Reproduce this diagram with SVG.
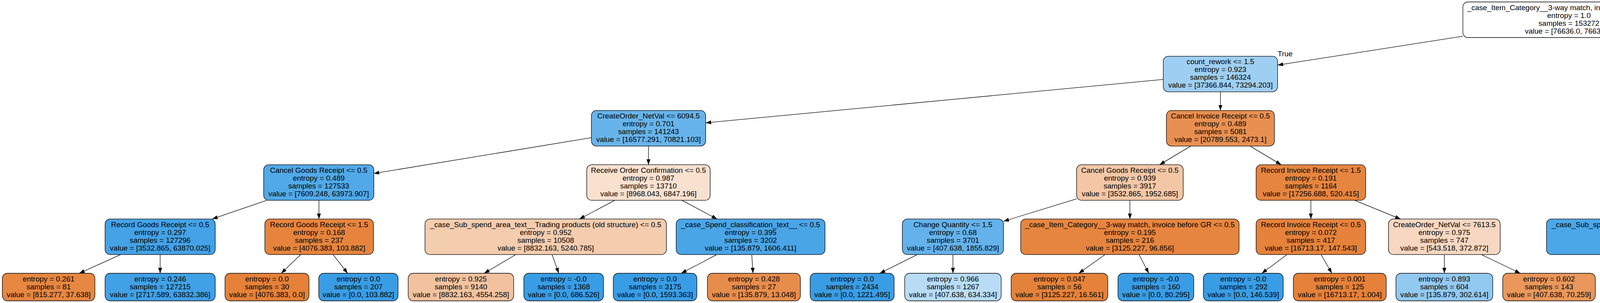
<svg xmlns="http://www.w3.org/2000/svg" width="6873" height="775" viewBox="0 0 6873 775">
<style>
.node rect{stroke:#000;stroke-width:1.3;}
text{font-family:"Liberation Sans",Arial,Helvetica,sans-serif;font-size:19px;text-anchor:middle;fill:#000;}
#edges path{stroke:#000;stroke-width:1.3;fill:none;marker-end:url(#arr);}
</style>
<defs>
<marker id="arr" markerUnits="userSpaceOnUse" markerWidth="14" markerHeight="10" refX="14" refY="5" orient="auto"><path d="M0,0 L14,5 L0,10 z" fill="#000"/></marker>
</defs>
<rect width="6873" height="775" fill="#fff"/>
<g id="edges">
<path d="M3745 92.7 L3270.6 166.5"/>
<path d="M4288 92.7 L4767.8 167.4"/>
<path d="M2978 203.2 L1806.5 314.2"/>
<path d="M3124.3 234.8 L3124.3 282.6"/>
<path d="M1514 352.1 L957 443.7"/>
<path d="M1660.1 373.6 L1660.1 421.4"/>
<path d="M3048.3 373.6 L2968.5 421.4"/>
<path d="M3200.2 373.6 L3279.9 421.4"/>
<path d="M4908.6 234.8 L4908.6 282.6"/>
<path d="M5049.4 213.6 L5574.3 304.1"/>
<path d="M4846.9 373.6 L4782.1 421.4"/>
<path d="M4970.2 373.6 L5035 421.4"/>
<path d="M5713.7 373.6 L5713.7 421.4"/>
<path d="M5851.7 373.6 L5997.3 421.6"/>
<path d="M682.9 512.4 L543.1 560.2"/>
<path d="M816.5 512.4 L816.5 560.2"/>
<path d="M1573.8 512.4 L1483.2 560.2"/>
<path d="M1745.7 512.4 L1835.8 560.2"/>
<path d="M2756 508.7 L2569 566"/>
<path d="M2892.5 512.4 L2892.5 560.2"/>
<path d="M3355.8 512.4 L3355.8 560.2"/>
<path d="M3467.8 512.4 L3585.5 560.2"/>
<path d="M4578 507.9 L4396.5 560.2"/>
<path d="M4729.6 512.4 L4739.2 560.2"/>
<path d="M5087.3 512.4 L5075.4 570.45"/>
<path d="M5169.9 512.4 L5246.8 560.2"/>
<path d="M5674.4 512.4 L5624.2 570.45"/>
<path d="M5765.6 512.4 L5820.1 560.2"/>
<path d="M6135 512.4 L6135 570.45"/>
<path d="M6272.3 511.6 L6422 560.2"/>
<path d="M308.9 651.2 L202.8 699"/>
<path d="M410 651.2 L410 699"/>
<path d="M769.7 651.2 L720.1 699"/>
<path d="M852.6 651.2 L889.9 699"/>
<path d="M1320.2 651.2 L1239.5 699"/>
<path d="M1413.3 651.2 L1430.4 699"/>
<path d="M1835 651.2 L1744 699"/>
<path d="M1924.5 651.2 L1927.7 699"/>
<path d="M2348.2 651.2 L2252.2 699"/>
<path d="M2439.5 651.2 L2439.5 699"/>
<path d="M2828.7 651.2 L2761.7 699"/>
<path d="M2916 651.2 L2940.8 699"/>
<path d="M3294.6 651.2 L3230.2 699"/>
<path d="M3382 651.2 L3409.5 699"/>
<path d="M3697.5 651.2 L3697.5 699"/>
<path d="M3792.4 651.2 L3892 699"/>
<path d="M4238.8 651.2 L4238.8 699"/>
<path d="M4331.7 651.2 L4429.5 699"/>
<path d="M4745.6 651.2 L4742.7 699"/>
<path d="M4832.8 651.2 L4921.6 699"/>
<path d="M5308.9 651.2 L5297.1 699"/>
<path d="M5391.9 651.2 L5467.3 699"/>
<path d="M5852 651.2 L5831 699"/>
<path d="M5942.8 651.2 L6017.2 699"/>
<path d="M6522.6 651.2 L6481.3 699"/>
<path d="M6612 651.2 L6664.6 699"/>
<text x="3290" y="144">True</text>
<text x="4746.5" y="145">False</text>
</g>

<g id="n0" class="node"><rect x="3745" y="5" width="543" height="91" rx="13" fill="#ffffff"/>
<text x="4016.5" y="25.6">_case_Item_Category__3-way match, invoice after GR &lt;= 0.5</text><text x="4016.5" y="45.6">entropy = 1.0</text><text x="4016.5" y="65.6">samples = 153272</text><text x="4016.5" y="85.6">value = [76636.0, 76636.0]</text></g>

<g id="n1" class="node"><rect x="2978" y="143.8" width="292.6" height="91" rx="13" fill="#9ecff2"/>
<text x="3124.3" y="164.4">count_rework &lt;= 1.5</text><text x="3124.3" y="184.4">entropy = 0.923</text><text x="3124.3" y="204.4">samples = 146324</text><text x="3124.3" y="224.4">value = [37366.844, 73294.203]</text></g>

<g id="n30" class="node"><rect x="4767.8" y="143.8" width="281.6" height="91" rx="13" fill="#e78c4a"/>
<text x="4908.6" y="164.4">Record Invoice Receipt &lt;= 1.5</text><text x="4908.6" y="184.4">entropy = 0.397</text><text x="4908.6" y="204.4">samples = 6948</text><text x="4908.6" y="224.4">value = [39269.156, 3341.797]</text></g>

<g id="n2" class="node"><rect x="1514" y="282.6" width="292.5" height="91" rx="13" fill="#67b4eb"/>
<text x="1660.25" y="303.2">CreateOrder_NetVal &lt;= 6094.5</text><text x="1660.25" y="323.2">entropy = 0.701</text><text x="1660.25" y="343.2">samples = 141243</text><text x="1660.25" y="363.2">value = [16577.291, 70821.103]</text></g>

<g id="n3" class="node"><rect x="2986" y="282.6" width="276.5" height="91" rx="13" fill="#e89051"/>
<text x="3124.25" y="303.2">Cancel Invoice Receipt &lt;= 0.5</text><text x="3124.25" y="323.2">entropy = 0.489</text><text x="3124.25" y="343.2">samples = 5081</text><text x="3124.25" y="363.2">value = [20789.553, 2473.1]</text></g>

<g id="n4" class="node"><rect x="4675" y="282.6" width="467" height="91" rx="13" fill="#f2c19e"/>
<text x="4908.5" y="303.2">_case_Sub_spend_area_text__Road Packed &lt;= 0.5</text><text x="4908.5" y="323.2">entropy = 0.923</text><text x="4908.5" y="343.2">samples = 6134</text><text x="4908.5" y="363.2">value = [5978.695, 3056.246]</text></g>

<g id="n5" class="node"><rect x="5574.3" y="282.6" width="278.6" height="91" rx="13" fill="#e5823b"/>
<text x="5713.6" y="303.2">Record Goods Receipt &lt;= 1.5</text><text x="5713.6" y="323.2">entropy = 0.071</text><text x="5713.6" y="343.2">samples = 814</text><text x="5713.6" y="363.2">value = [33290.461, 285.551]</text></g>

<g id="n6" class="node"><rect x="675" y="421.4" width="282" height="91" rx="13" fill="#51a9e8"/>
<text x="816" y="442">Cancel Goods Receipt &lt;= 0.5</text><text x="816" y="462">entropy = 0.489</text><text x="816" y="482">samples = 127533</text><text x="816" y="502">value = [7609.248, 63973.907]</text></g>

<g id="n7" class="node"><rect x="1502" y="421.4" width="316" height="91" rx="13" fill="#f9e1d0"/>
<text x="1660" y="442">Receive Order Confirmation &lt;= 0.5</text><text x="1660" y="462">entropy = 0.987</text><text x="1660" y="482">samples = 13710</text><text x="1660" y="502">value = [8968.043, 6847.196]</text></g>

<g id="n8" class="node"><rect x="2756" y="421.4" width="273" height="91" rx="13" fill="#f3c7a6"/>
<text x="2892.5" y="442">Cancel Goods Receipt &lt;= 0.5</text><text x="2892.5" y="462">entropy = 0.939</text><text x="2892.5" y="482">samples = 3917</text><text x="2892.5" y="502">value = [3532.865, 1952.685]</text></g>

<g id="n9" class="node"><rect x="3215.6" y="421.4" width="280.4" height="91" rx="13" fill="#e6853f"/>
<text x="3355.8" y="442">Record Invoice Receipt &lt;= 1.5</text><text x="3355.8" y="462">entropy = 0.191</text><text x="3355.8" y="482">samples = 1164</text><text x="3355.8" y="502">value = [17256.688, 520.415]</text></g>

<g id="n10" class="node"><rect x="4578" y="421.4" width="285" height="91" rx="13" fill="#e1f0fb"/>
<text x="4720.5" y="442">CreateOrder_NetVal &lt;= 9944.5</text><text x="4720.5" y="462">entropy = 0.995</text><text x="4720.5" y="482">samples = 6090</text><text x="4720.5" y="502">value = [2581.709, 3046.711]</text></g>

<g id="n11" class="node"><rect x="4888.8" y="421.4" width="415.8" height="91" rx="13" fill="#e5813a"/>
<text x="5096.7" y="442">_case_Document_Type__Standard PO &lt;= 0.5</text><text x="5096.7" y="462">entropy = 0.028</text><text x="5096.7" y="482">samples = 44</text><text x="5096.7" y="502">value = [3396.986, 9.535]</text></g>

<g id="n12" class="node"><rect x="5575" y="421.4" width="277.5" height="91" rx="13" fill="#e5813a"/>
<text x="5713.75" y="442">Cancel Invoice Receipt &lt;= 0.5</text><text x="5713.75" y="462">entropy = 0.034</text><text x="5713.75" y="482">samples = 422</text><text x="5713.75" y="502">value = [28942.319, 104.886]</text></g>

<g id="n13" class="node"><rect x="5997.3" y="421.4" width="275" height="91" rx="13" fill="#e68641"/>
<text x="6134.8" y="442">CreateOrder_NetVal &lt;= 136.5</text><text x="6134.8" y="462">entropy = 0.242</text><text x="6134.8" y="482">samples = 392</text><text x="6134.8" y="502">value = [4348.142, 180.665]</text></g>

<g id="n14" class="node"><rect x="269" y="560.2" width="282" height="91" rx="13" fill="#44a2e6"/>
<text x="410" y="580.8">Record Goods Receipt &lt;= 0.5</text><text x="410" y="600.8">entropy = 0.297</text><text x="410" y="620.8">samples = 127296</text><text x="410" y="640.8">value = [3532.865, 63870.025]</text></g>

<g id="n15" class="node"><rect x="678" y="560.2" width="278" height="91" rx="13" fill="#e6843e"/>
<text x="817" y="580.8">Record Goods Receipt &lt;= 1.5</text><text x="817" y="600.8">entropy = 0.168</text><text x="817" y="620.8">samples = 237</text><text x="817" y="640.8">value = [4076.383, 103.882]</text></g>

<g id="n16" class="node"><rect x="1088" y="560.2" width="618" height="91" rx="13" fill="#f4ccae"/>
<text x="1397" y="580.8">_case_Sub_spend_area_text__Trading products (old structure) &lt;= 0.5</text><text x="1397" y="600.8">entropy = 0.952</text><text x="1397" y="620.8">samples = 10508</text><text x="1397" y="640.8">value = [8832.163, 5240.785]</text></g>

<g id="n17" class="node"><rect x="1731" y="560.2" width="381" height="91" rx="13" fill="#4aa5e7"/>
<text x="1921.5" y="580.8">_case_Spend_classification_text__ &lt;= 0.5</text><text x="1921.5" y="600.8">entropy = 0.395</text><text x="1921.5" y="620.8">samples = 3202</text><text x="1921.5" y="640.8">value = [135.879, 1606.411]</text></g>

<g id="n18" class="node"><rect x="2310" y="560.2" width="259" height="91" rx="13" fill="#64b2eb"/>
<text x="2439.5" y="580.8">Change Quantity &lt;= 1.5</text><text x="2439.5" y="600.8">entropy = 0.68</text><text x="2439.5" y="620.8">samples = 3701</text><text x="2439.5" y="640.8">value = [407.638, 1855.829]</text></g>

<g id="n19" class="node"><rect x="2613" y="560.2" width="559" height="91" rx="13" fill="#e6853f"/>
<text x="2892.5" y="580.8">_case_Item_Category__3-way match, invoice before GR &lt;= 0.5</text><text x="2892.5" y="600.8">entropy = 0.195</text><text x="2892.5" y="620.8">samples = 216</text><text x="2892.5" y="640.8">value = [3125.227, 96.856]</text></g>

<g id="n20" class="node"><rect x="3215.6" y="560.2" width="280.4" height="91" rx="13" fill="#e5823b"/>
<text x="3355.8" y="580.8">Record Invoice Receipt &lt;= 0.5</text><text x="3355.8" y="600.8">entropy = 0.072</text><text x="3355.8" y="620.8">samples = 417</text><text x="3355.8" y="640.8">value = [16713.17, 147.543]</text></g>

<g id="n21" class="node"><rect x="3554.5" y="560.2" width="286" height="91" rx="13" fill="#f7d7c1"/>
<text x="3697.5" y="580.8">CreateOrder_NetVal &lt;= 7613.5</text><text x="3697.5" y="600.8">entropy = 0.975</text><text x="3697.5" y="620.8">samples = 747</text><text x="3697.5" y="640.8">value = [543.518, 372.872]</text></g>

<g id="n22" class="node"><rect x="3959" y="560.2" width="559" height="91" rx="13" fill="#4ca7e8"/>
<text x="4238.5" y="580.8">_case_Sub_spend_area_text__Other Logistics Services &lt;= 0.5</text><text x="4238.5" y="600.8">entropy = 0.433</text><text x="4238.5" y="620.8">samples = 5547</text><text x="4238.5" y="640.8">value = [271.759, 2782.74]</text></g>

<g id="n23" class="node"><rect x="4544" y="560.2" width="408.6" height="91" rx="13" fill="#e88f50"/>
<text x="4748.3" y="580.8">_case_Spend_classification_text__PR &lt;= 0.5</text><text x="4748.3" y="600.8">entropy = 0.477</text><text x="4748.3" y="620.8">samples = 543</text><text x="4748.3" y="640.8">value = [2309.95, 263.971]</text></g>

<g id="n24" class="node"><rect x="4977.5" y="570.45" width="181.2" height="70.5" rx="13" fill="#399de5"/>
<text x="5068.1" y="591">entropy = 0.0</text><text x="5068.1" y="611">samples = 12</text><text x="5068.1" y="631">value = [0.0, 6.022]</text></g>

<g id="n25" class="node"><rect x="5185" y="560.2" width="270" height="91" rx="13" fill="#e58139"/>
<text x="5320" y="580.8">number_of_handovers &lt;= 3.5</text><text x="5320" y="600.8">entropy = 0.012</text><text x="5320" y="620.8">samples = 32</text><text x="5320" y="640.8">value = [3396.986, 3.513]</text></g>

<g id="n26" class="node"><rect x="5480.7" y="570.45" width="226" height="70.5" rx="13" fill="#e58139"/>
<text x="5593.7" y="591">entropy = 0.0</text><text x="5593.7" y="611">samples = 186</text><text x="5593.7" y="631">value = [25273.574, 0.0]</text></g>

<g id="n27" class="node"><rect x="5731.8" y="560.2" width="280.4" height="91" rx="13" fill="#e6853f"/>
<text x="5872" y="580.8">Record Invoice Receipt &lt;= 2.5</text><text x="5872" y="600.8">entropy = 0.183</text><text x="5872" y="620.8">samples = 236</text><text x="5872" y="640.8">value = [3668.745, 104.886]</text></g>

<g id="n28" class="node"><rect x="6038" y="570.45" width="194" height="70.5" rx="13" fill="#399de5"/>
<text x="6135" y="591">entropy = 0.0</text><text x="6135" y="611">samples = 24</text><text x="6135" y="631">value = [0.0, 12.044]</text></g>

<g id="n29" class="node"><rect x="6257" y="560.2" width="610" height="91" rx="13" fill="#e68641"/>
<text x="6562" y="580.8">_case_Sub_spend_area_text__Plastic Containers_ Lids &lt; 30L &lt;= 0.5</text><text x="6562" y="600.8">entropy = 0.23</text><text x="6562" y="620.8">samples = 368</text><text x="6562" y="640.8">value = [4348.142, 168.62]</text></g>

<g id="l1" class="node"><rect x="6" y="699" width="237" height="70.5" rx="13" fill="#e68742"/>
<text x="124.5" y="719.6">entropy = 0.261</text><text x="124.5" y="739.6">samples = 81</text><text x="124.5" y="759.6">value = [815.277, 37.638]</text></g>
<g id="l2" class="node"><rect x="269" y="699" width="282" height="70.5" rx="13" fill="#41a1e6"/>
<text x="410" y="719.6">entropy = 0.246</text><text x="410" y="739.6">samples = 127215</text><text x="410" y="759.6">value = [2717.589, 63832.386]</text></g>
<g id="l3" class="node"><rect x="576" y="699" width="215" height="70.5" rx="13" fill="#e58139"/>
<text x="683.5" y="719.6">entropy = 0.0</text><text x="683.5" y="739.6">samples = 30</text><text x="683.5" y="759.6">value = [4076.383, 0.0]</text></g>
<g id="l4" class="node"><rect x="816" y="699" width="203" height="70.5" rx="13" fill="#399de5"/>
<text x="917.5" y="719.6">entropy = 0.0</text><text x="917.5" y="739.6">samples = 207</text><text x="917.5" y="759.6">value = [0.0, 103.882]</text></g>
<g id="l5" class="node"><rect x="1045" y="699" width="270" height="70.5" rx="13" fill="#f2c29f"/>
<text x="1180" y="719.6">entropy = 0.925</text><text x="1180" y="739.6">samples = 9140</text><text x="1180" y="759.6">value = [8832.163, 4554.258]</text></g>
<g id="l6" class="node"><rect x="1341" y="699" width="204" height="70.5" rx="13" fill="#399de5"/>
<text x="1443" y="719.6">entropy = -0.0</text><text x="1443" y="739.6">samples = 1368</text><text x="1443" y="759.6">value = [0.0, 686.526]</text></g>
<g id="l7" class="node"><rect x="1570" y="699" width="214" height="70.5" rx="13" fill="#399de5"/>
<text x="1677" y="719.6">entropy = 0.0</text><text x="1677" y="739.6">samples = 3175</text><text x="1677" y="759.6">value = [0.0, 1593.363]</text></g>
<g id="l8" class="node"><rect x="1811" y="699" width="238" height="70.5" rx="13" fill="#e78d4c"/>
<text x="1930" y="719.6">entropy = 0.428</text><text x="1930" y="739.6">samples = 27</text><text x="1930" y="759.6">value = [135.879, 13.048]</text></g>
<g id="l9" class="node"><rect x="2074" y="699" width="215" height="70.5" rx="13" fill="#399de5"/>
<text x="2181.5" y="719.6">entropy = 0.0</text><text x="2181.5" y="739.6">samples = 2434</text><text x="2181.5" y="759.6">value = [0.0, 1221.495]</text></g>
<g id="l10" class="node"><rect x="2316" y="699" width="247" height="70.5" rx="13" fill="#b8dcf6"/>
<text x="2439.5" y="719.6">entropy = 0.966</text><text x="2439.5" y="739.6">samples = 1267</text><text x="2439.5" y="759.6">value = [407.638, 634.334]</text></g>
<g id="l11" class="node"><rect x="2588.5" y="699" width="247.5" height="70.5" rx="13" fill="#e5823a"/>
<text x="2712.25" y="719.6">entropy = 0.047</text><text x="2712.25" y="739.6">samples = 56</text><text x="2712.25" y="759.6">value = [3125.227, 16.561]</text></g>
<g id="l12" class="node"><rect x="2862" y="699" width="194" height="70.5" rx="13" fill="#399de5"/>
<text x="2959" y="719.6">entropy = -0.0</text><text x="2959" y="739.6">samples = 160</text><text x="2959" y="759.6">value = [0.0, 80.295]</text></g>
<g id="l13" class="node"><rect x="3080.6" y="699" width="204.4" height="70.5" rx="13" fill="#399de5"/>
<text x="3182.8" y="719.6">entropy = -0.0</text><text x="3182.8" y="739.6">samples = 292</text><text x="3182.8" y="759.6">value = [0.0, 146.539]</text></g>
<g id="l14" class="node"><rect x="3311" y="699" width="237.7" height="70.5" rx="13" fill="#e58139"/>
<text x="3429.85" y="719.6">entropy = 0.001</text><text x="3429.85" y="739.6">samples = 125</text><text x="3429.85" y="759.6">value = [16713.17, 1.004]</text></g>
<g id="l15" class="node"><rect x="3573.6" y="699" width="247.9" height="70.5" rx="13" fill="#92c9f1"/>
<text x="3697.55" y="719.6">entropy = 0.893</text><text x="3697.55" y="739.6">samples = 604</text><text x="3697.55" y="759.6">value = [135.879, 302.614]</text></g>
<g id="l16" class="node"><rect x="3847" y="699" width="237" height="70.5" rx="13" fill="#e9975b"/>
<text x="3965.5" y="719.6">entropy = 0.602</text><text x="3965.5" y="739.6">samples = 143</text><text x="3965.5" y="759.6">value = [407.638, 70.259]</text></g>
<g id="l17" class="node"><rect x="4109.7" y="699" width="258.9" height="70.5" rx="13" fill="#43a2e6"/>
<text x="4239.15" y="719.6">entropy = 0.272</text><text x="4239.15" y="739.6">samples = 5535</text><text x="4239.15" y="759.6">value = [135.879, 2777.219]</text></g>
<g id="l18" class="node"><rect x="4394" y="699" width="216" height="70.5" rx="13" fill="#e68641"/>
<text x="4502" y="719.6">entropy = 0.238</text><text x="4502" y="739.6">samples = 12</text><text x="4502" y="759.6">value = [135.879, 5.52]</text></g>
<g id="l19" class="node"><rect x="4643.8" y="699" width="193.6" height="70.5" rx="13" fill="#399de5"/>
<text x="4740.6" y="719.6">entropy = 0.0</text><text x="4740.6" y="739.6">samples = 180</text><text x="4740.6" y="759.6">value = [0.0, 90.332]</text></g>
<g id="l20" class="node"><rect x="4863" y="699" width="248" height="70.5" rx="13" fill="#e78a48"/>
<text x="4987" y="719.6">entropy = 0.366</text><text x="4987" y="739.6">samples = 363</text><text x="4987" y="759.6">value = [2309.95, 173.639]</text></g>
<g id="l21" class="node"><rect x="5169.7" y="699" width="237.6" height="70.5" rx="13" fill="#e58139"/>
<text x="5288.5" y="719.6">entropy = 0.009</text><text x="5288.5" y="739.6">samples = 30</text><text x="5288.5" y="759.6">value = [3396.986, 2.509]</text></g>
<g id="l22" class="node"><rect x="5432" y="699" width="182" height="70.5" rx="13" fill="#399de5"/>
<text x="5523" y="719.6">entropy = -0.0</text><text x="5523" y="739.6">samples = 2</text><text x="5523" y="759.6">value = [0.0, 1.004]</text></g>
<g id="l23" class="node"><rect x="5696.4" y="699" width="238.2" height="70.5" rx="13" fill="#eb9f68"/>
<text x="5815.5" y="719.6">entropy = 0.706</text><text x="5815.5" y="739.6">samples = 196</text><text x="5815.5" y="759.6">value = [407.638, 96.856]</text></g>
<g id="l24" class="node"><rect x="5959" y="699" width="226" height="70.5" rx="13" fill="#e58139"/>
<text x="6072" y="719.6">entropy = 0.025</text><text x="6072" y="739.6">samples = 40</text><text x="6072" y="759.6">value = [3261.106, 8.03]</text></g>
<g id="l25" class="node"><rect x="6321.5" y="699" width="258.5" height="70.5" rx="13" fill="#e68640"/>
<text x="6450.75" y="719.6">entropy = 0.22</text><text x="6450.75" y="739.6">samples = 348</text><text x="6450.75" y="759.6">value = [4348.142, 158.584]</text></g>
<g id="l26" class="node"><rect x="6607" y="699" width="192.6" height="70.5" rx="13" fill="#399de5"/>
<text x="6703.3" y="719.6">entropy = 0.0</text><text x="6703.3" y="739.6">samples = 20</text><text x="6703.3" y="759.6">value = [0.0, 10.037]</text></g>
</svg>
